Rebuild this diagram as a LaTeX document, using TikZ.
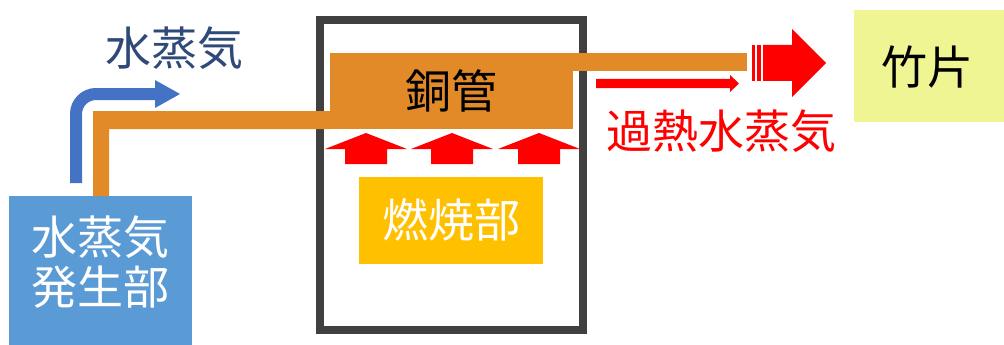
\documentclass[tikz,border=0pt]{standalone}
\usepackage{fontspec}
\newfontfamily\jp{Noto Sans CJK JP}
\definecolor{genblue}{HTML}{5B9BD5}
\definecolor{arrblue}{HTML}{4472C4}
\definecolor{pipeor}{HTML}{E28A28}
\definecolor{frame}{HTML}{404040}
\definecolor{burn}{HTML}{FFC000}
\definecolor{bamboo}{HTML}{EEF592}
\definecolor{txtblue}{HTML}{2F4A78}
\definecolor{hot}{HTML}{FF0000}
\tikzset{
  box/.style={draw=none, inner sep=0pt, outer sep=0pt},
  jptext/.style={font=\jp\fontsize{46}{50}\selectfont},
}
\begin{document}
\begin{tikzpicture}[x=1pt,y=-1pt]
\useasboundingbox (0,0) rectangle (1004,345);
% boxes
\node[box, fill=genblue, minimum width=183pt, minimum height=150pt] (gen) at (100.5,271) {};
\node[jptext, text=white, align=center] (gentext) at (100,262) {水蒸気\\発生部};
\draw[frame, line width=7.5pt] (320,20) rectangle (583,330);
\node[box, fill=pipeor, minimum width=243pt, minimum height=76pt] (tube) at (451.5,91) {};
\node[jptext, text=black] (tubetext) at (451,91) {銅管};
\node[box, fill=burn, minimum width=184pt, minimum height=87pt] (burner) at (451,220.5) {};
\node[jptext, text=white] (burntext) at (451,220) {燃焼部};
\node[box, fill=bamboo, minimum width=150pt, minimum height=112pt] (bam) at (929,66) {};
\node[jptext, text=black] (bamtext) at (927,67) {竹片};
% labels
\node[jptext, text=txtblue] (steamlabel) at (174,48) {水蒸気};
\node[jptext, text=hot] (hotlabel) at (721,131) {過熱水蒸気};
% orange pipe: generator -> tube
\fill[pipeor] (gen.north -| 93,0) -- (93,111) -- (tube.west |- 0,111) -- (tube.south west) -- (109,129) -- (gen.north -| 109,0) -- cycle;
% outlet pipe
\fill[pipeor] (tube.north east) -- (747,53) -- (747,71) -- (tube.east |- 0,71) -- cycle;
% blue steam arrow
\coordinate (bluehead) at (157,94);
\draw[arrblue, line width=12pt, rounded corners=20pt] (76,183) |- (bluehead);
\fill[arrblue] (155,80) -- (180,94) -- (155,108) -- cycle;
% red heat arrows
\foreach \cx in {366,452,539}{
  \fill[hot] (\cx-21,164) -- (\cx-21,149) -- (\cx-41,149) -- (\cx,133) -- (\cx+41,149) -- (\cx+21,149) -- (\cx+21,164) -- cycle;
}
% thin red arrow
\fill[hot] (596,79) -- (730,79) -- (730,75) -- (739,83.5) -- (730,92) -- (730,88) -- (596,88) -- cycle;
% big striped arrow
\fill[hot] (752,45) rectangle (755,81);
\fill[hot] (757,45) rectangle (761,81);
\fill[hot] (763,45) -- (792,45) -- (792,29) -- (826,63) -- (792,97) -- (792,81) -- (763,81) -- cycle;
\end{tikzpicture}
\end{document}
